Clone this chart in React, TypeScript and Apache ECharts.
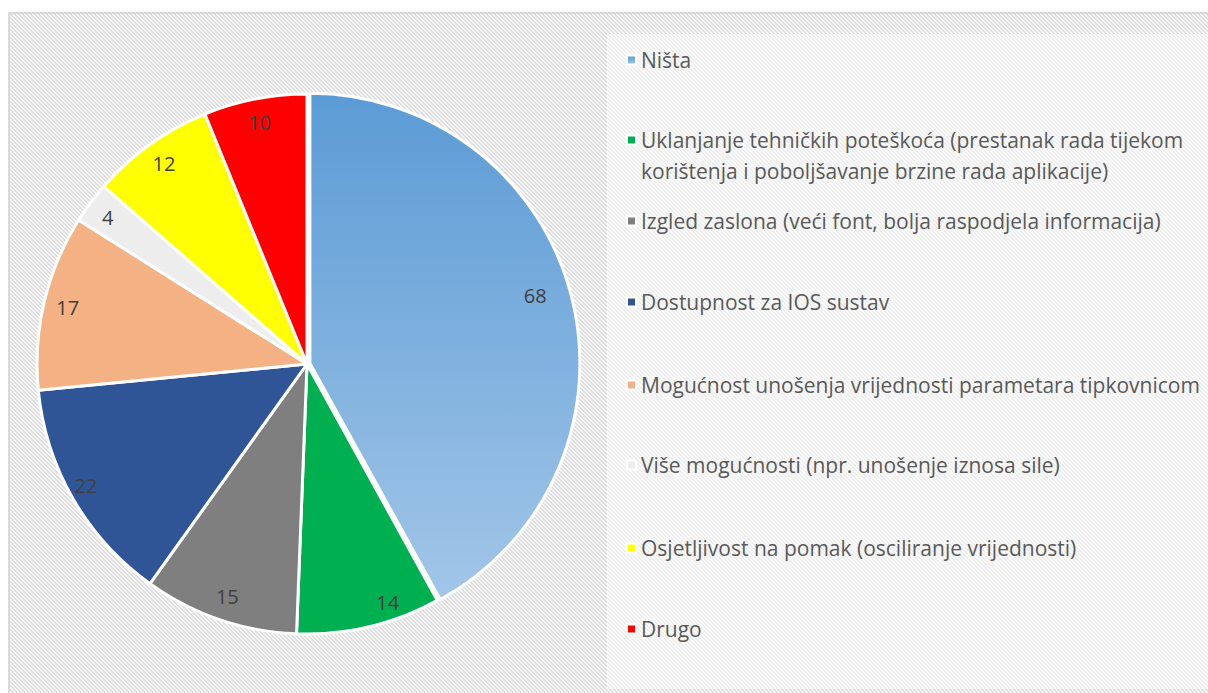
import React, { useEffect, useRef } from "react";
import * as echarts from "echarts";

const categories = [
  "Ništa",
  "Uklanjanje tehničkih poteškoća (prestanak rada tijekom\nkorištenja i poboljšavanje brzine rada aplikacije)",
  "Izgled zaslona (veći font, bolja raspodjela informacija)",
  "Dostupnost za IOS sustav",
  "Mogućnost unošenja vrijednosti parametara tipkovnicom",
  "Više mogućnosti (npr. unošenje iznosa sile)",
  "Osjetljivost na pomak (osciliranje vrijednosti)",
  "Drugo",
];
const values = [68, 14, 15, 22, 17, 4, 12, 10];

const sliceColors: any[] = [
  null,
  "#00B050",
  "#7F7F7F",
  "#2F5597",
  "#F4B183",
  "#EDEDED",
  "#FFFF00",
  "#FF0000",
];
const legendIconY = [60, 140, 221, 302, 385, 465, 548, 629];
// small best-fit nudges for data labels (style only)
const labelNudge: number[][] = [
  [-10, -7],
  [24, -1],
  [0, 0],
  [-8, -2],
  [0, 0],
  [-2, 0],
  [0, 0],
  [0, 0],
];

const FONT = "'Open Sans', sans-serif";
const LH = 31;

function tile(dark: string, light: string) {
  let rects = "";
  for (let y = 0; y < 4; y++) {
    for (let k = 0; k < 2; k++) {
      const x = (y + k) % 4;
      rects += `<rect x='${x}' y='${y}' width='1' height='1' fill='${dark}'/>`;
    }
  }
  const svg = `<svg xmlns='http://www.w3.org/2000/svg' width='4' height='4'><rect width='4' height='4' fill='${light}'/>${rects}</svg>`;
  return `url("data:image/svg+xml,${encodeURIComponent(svg)}")`;
}

export default function App() {
  const ref = useRef<HTMLDivElement>(null);
  useEffect(() => {
    if (!ref.current) return;
    const chart = echarts.init(ref.current, null, { renderer: "svg" });
    const blueGrad = new echarts.graphic.LinearGradient(0, 0, 0, 1, [
      { offset: 0, color: "#5B9BD5" },
      { offset: 1, color: "#A2C6E8" },
    ]);
    const colors = sliceColors.map((c) => (c === null ? blueGrad : c));
    const data = categories.map((name, i) => ({
      name,
      value: values[i],
      selected: i === 0,
      itemStyle: { color: colors[i] },
    }));
    const legends = categories.map((name, i) => {
      const twoLine = name.includes("\n");
      return {
        data: [{ name, icon: "rect" }],
        left: 626,
        top: twoLine ? legendIconY[i] - 1.5 * LH : legendIconY[i] - LH / 2,
        orient: "vertical",
        itemWidth: 9,
        itemHeight: 9,
        selectedMode: false,
        padding: 0,
        formatter: (n: string) => (n.includes("\n") ? "\n" + n : n),
        textStyle: {
          fontFamily: FONT,
          fontSize: 21,
          color: "#595959",
          lineHeight: LH,
        },
      };
    });
    chart.setOption({
      animation: false,
      backgroundColor: "transparent",
      legend: legends,
      series: [
        {
          type: "pie",
          center: [307, 364],
          radius: [0, 270],
          startAngle: 90,
          clockwise: true,
          selectedMode: "single",
          selectedOffset: 3,
          silent: true,
          itemStyle: { borderColor: "#FFFFFF", borderWidth: 3 },
          label: { show: false },
          labelLine: { show: false },
          emphasis: { disabled: true },
          data,
        },
        {
          type: "pie",
          center: [307, 364],
          radius: [216, 270],
          startAngle: 90,
          clockwise: true,
          silent: true,
          itemStyle: { color: "transparent", borderWidth: 0 },
          label: {
            show: true,
            position: "inside",
            formatter: "{c}",
            fontFamily: FONT,
            fontSize: 20,
            color: "#404040",
          },
          labelLine: { show: false },
          emphasis: { disabled: true },
          data: categories.map((name, i) => ({
            name,
            value: values[i],
            label: { offset: labelNudge[i] },
          })),
        },
      ],
    });
    return () => chart.dispose();
  }, []);
  return (
    <div
      style={{
        position: "absolute",
        left: 0,
        top: 0,
        width: 1208,
        height: 693,
        overflow: "hidden",
        background: "#ffffff",
      }}
    >
      <div
        style={{
          position: "absolute",
          left: 8,
          top: 12,
          width: 1220,
          height: 700,
          border: "2px solid #D9D9D9",
          backgroundImage: tile("#DDDDDD", "#F6F6F6"),
        }}
      />
      <div
        style={{
          position: "absolute",
          left: 607,
          top: 34,
          width: 620,
          height: 655,
          backgroundImage: tile("#EEEEEE", "#FCFCFC"),
        }}
      />
      <div
        ref={ref}
        style={{ position: "absolute", left: 0, top: 0, width: 1208, height: 693 }}
      />
    </div>
  );
}
